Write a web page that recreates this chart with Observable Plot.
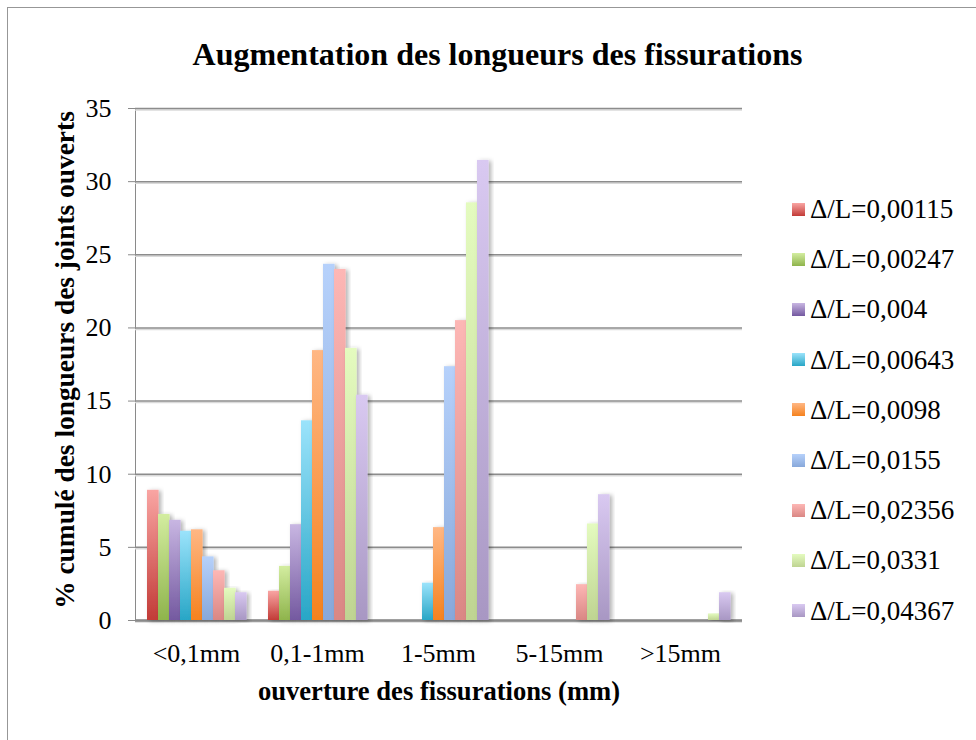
<!DOCTYPE html>
<html>
<head>
<meta charset="utf-8">
<script src="https://cdn.jsdelivr.net/npm/d3@7"></script>
<script src="https://cdn.jsdelivr.net/npm/@observablehq/plot@0.6"></script>
<style>
  body { margin: 0; background: #fff; }
  #wrap { position: relative; width: 976px; height: 740px; overflow: hidden; background: #fff; font-family: "Liberation Serif", "Times New Roman", serif; }
  #frame { position: absolute; left: 7px; top: 7px; width: 1000px; height: 1000px; border-left: 1.5px solid #979797; border-top: 1.5px solid #979797; }
  #title { position: absolute; left: 0; width: 995px; top: 38px; text-align: center; font-weight: bold; font-size: 32px; line-height: 32px; color: #000; white-space: nowrap; }
  #xtitle { position: absolute; left: 139px; width: 600px; top: 678px; text-align: center; font-weight: bold; font-size: 26.6px; line-height: 26px; color: #000; white-space: nowrap; }
  #ytitle { position: absolute; left: -235px; width: 600px; top: 347px; height: 26px; text-align: center; font-weight: bold; font-size: 27.4px; line-height: 26px; color: #000; white-space: nowrap; transform: rotate(-90deg); }
  .layer { position: absolute; left: 0; top: 0; }
  .layer svg text { fill: #000; }
  #legend { position: absolute; left: 792px; top: 0; }
  .item { position: absolute; left: 0; height: 26px; white-space: nowrap; font-size: 27px; line-height: 26px; color: #000; }
  .sw { position: absolute; left: 0; top: 6.5px; width: 13px; height: 13px; }
  .lab { position: absolute; left: 18px; top: 0; }
</style>
</head>
<body>
<div id="wrap">
  <div id="frame"></div>
  <svg width="0" height="0" style="position:absolute">
    <defs id="defs"></defs>
  </svg>
  <div id="grid" class="layer"></div>
  <div id="bars" class="layer"></div>
  <div id="title">Augmentation des longueurs des fissurations</div>
  <div id="ytitle">% cumulé des longueurs des joints ouverts</div>
  <div id="xtitle">ouverture des fissurations (mm)</div>
  <div id="legend"></div>
</div>
<script>
// ---- data ----
const categories = ["<0,1mm", "0,1-1mm", "1-5mm", "5-15mm", ">15mm"];
const seriesNames = ["Δ/L=0,00115", "Δ/L=0,00247", "Δ/L=0,004", "Δ/L=0,00643", "Δ/L=0,0098",
                     "Δ/L=0,0155", "Δ/L=0,02356", "Δ/L=0,0331", "Δ/L=0,04367"];
const s00115 = [8.9, 2.0, 0, 0, 0];
const s00247 = [7.25, 3.7, 0, 0, 0];
const s004   = [6.85, 6.55, 0, 0, 0];
const s00643 = [6.1, 13.65, 2.55, 0, 0];
const s0098  = [6.2, 18.45, 6.35, 0, 0];
const s0155  = [4.35, 24.35, 17.35, 0, 0];
const s02356 = [3.4, 24.0, 20.5, 2.45, 0];
const s0331  = [2.2, 18.6, 28.55, 6.6, 0.45];
const s04367 = [1.9, 15.4, 31.45, 8.6, 1.9];
const seriesValues = [s00115, s00247, s004, s00643, s0098, s0155, s02356, s0331, s04367];
const yTicks = [0, 5, 10, 15, 20, 25, 30, 35];

// ---- styles ----
const colorTop    = ["#f9a5a3", "#d3eda0", "#c8b6e2", "#9be3fb", "#ffb784", "#b6d1fb", "#fdb7b5", "#e4fbbf", "#d9c9f1"];
const colorBottom = ["#c23b37", "#8fb44c", "#7459a0", "#28a6c6", "#f5821e", "#88a8da", "#da8784", "#bfd492", "#a897c3"];

// gradients + shadow
const defs = d3.select("#defs");
seriesNames.forEach((s, i) => {
  const g = defs.append("linearGradient").attr("id", "g" + i).attr("x1", 0).attr("y1", 0).attr("x2", 0).attr("y2", 1);
  g.append("stop").attr("offset", "0%").attr("stop-color", colorTop[i]);
  g.append("stop").attr("offset", "100%").attr("stop-color", colorBottom[i]);
});
const f = defs.append("filter").attr("id", "shadow").attr("x", "-20%").attr("y", "-5%").attr("width", "160%").attr("height", "115%");
f.append("feDropShadow").attr("dx", 2.5).attr("dy", 1).attr("stdDeviation", 2).attr("flood-color", "#000").attr("flood-opacity", 0.3);

const table = seriesNames.flatMap((s, i) => categories.map((c, j) => ({cat: c, series: s, value: seriesValues[i][j]})));

const W = 976, H = 740;
const M = {left: 135, right: 234, top: 108, bottom: 120};
const font = {fontFamily: "Liberation Serif, Times New Roman, serif", fontSize: "26px", background: "transparent", overflow: "visible"};

// layer 1: grid and y axis
const gridPlot = Plot.plot({
  width: W, height: H,
  marginLeft: M.left, marginRight: M.right, marginTop: M.top, marginBottom: M.bottom,
  style: {...font, color: "#8a8a8a"},
  y: {domain: [0, 35], ticks: yTicks, tickSize: 7, tickPadding: 7, label: null, line: true},
  marks: [
    Plot.ruleY(yTicks, {stroke: "#dadada", strokeWidth: 1.5, dy: 1.5}),
    Plot.ruleY(yTicks, {stroke: "#8c8c8c", strokeWidth: 1.5}),
    Plot.ruleY([0], {stroke: "#8a8a8a", strokeWidth: 2.5})
  ]
});
document.getElementById("grid").appendChild(gridPlot);
// nudge the y tick labels a little further left of the axis
gridPlot.querySelectorAll("text").forEach(t => {
  const g = document.createElementNS("http://www.w3.org/2000/svg", "g");
  g.setAttribute("transform", "translate(-10,0)");
  t.parentNode.insertBefore(g, t);
  g.appendChild(t);
});

// layer 2: bars
const barPlot = Plot.plot({
  width: W, height: H,
  marginLeft: M.left, marginRight: M.right, marginTop: M.top, marginBottom: M.bottom,
  style: {...font, color: "#000"},
  fx: {domain: categories, paddingInner: 0.14, paddingOuter: 0.07, axis: "bottom", tickSize: 0, tickPadding: 23, label: null},
  x: {domain: seriesNames, padding: 0, axis: null},
  y: {domain: [0, 35], axis: null},
  color: {domain: seriesNames, range: seriesNames.map((s, i) => `url(#g${i})`)},
  marks: [
    Plot.barY(table, {fx: "cat", x: "series", y: "value", fill: "series", insetRight: -0.6})
  ]
});
document.getElementById("bars").appendChild(barPlot);
d3.select(barPlot).selectAll('g[aria-label="bar"] rect').attr("filter", "url(#shadow)");

// legend
const legend = d3.select("#legend");
seriesNames.forEach((s, i) => {
  const it = legend.append("div").attr("class", "item").style("top", (209 + 50.2 * i - 13) + "px");
  it.append("span").attr("class", "sw").style("background", `linear-gradient(to bottom, ${colorTop[i]}, ${colorBottom[i]})`);
  it.append("span").attr("class", "lab").text(s);
});
</script>
</body>
</html>
